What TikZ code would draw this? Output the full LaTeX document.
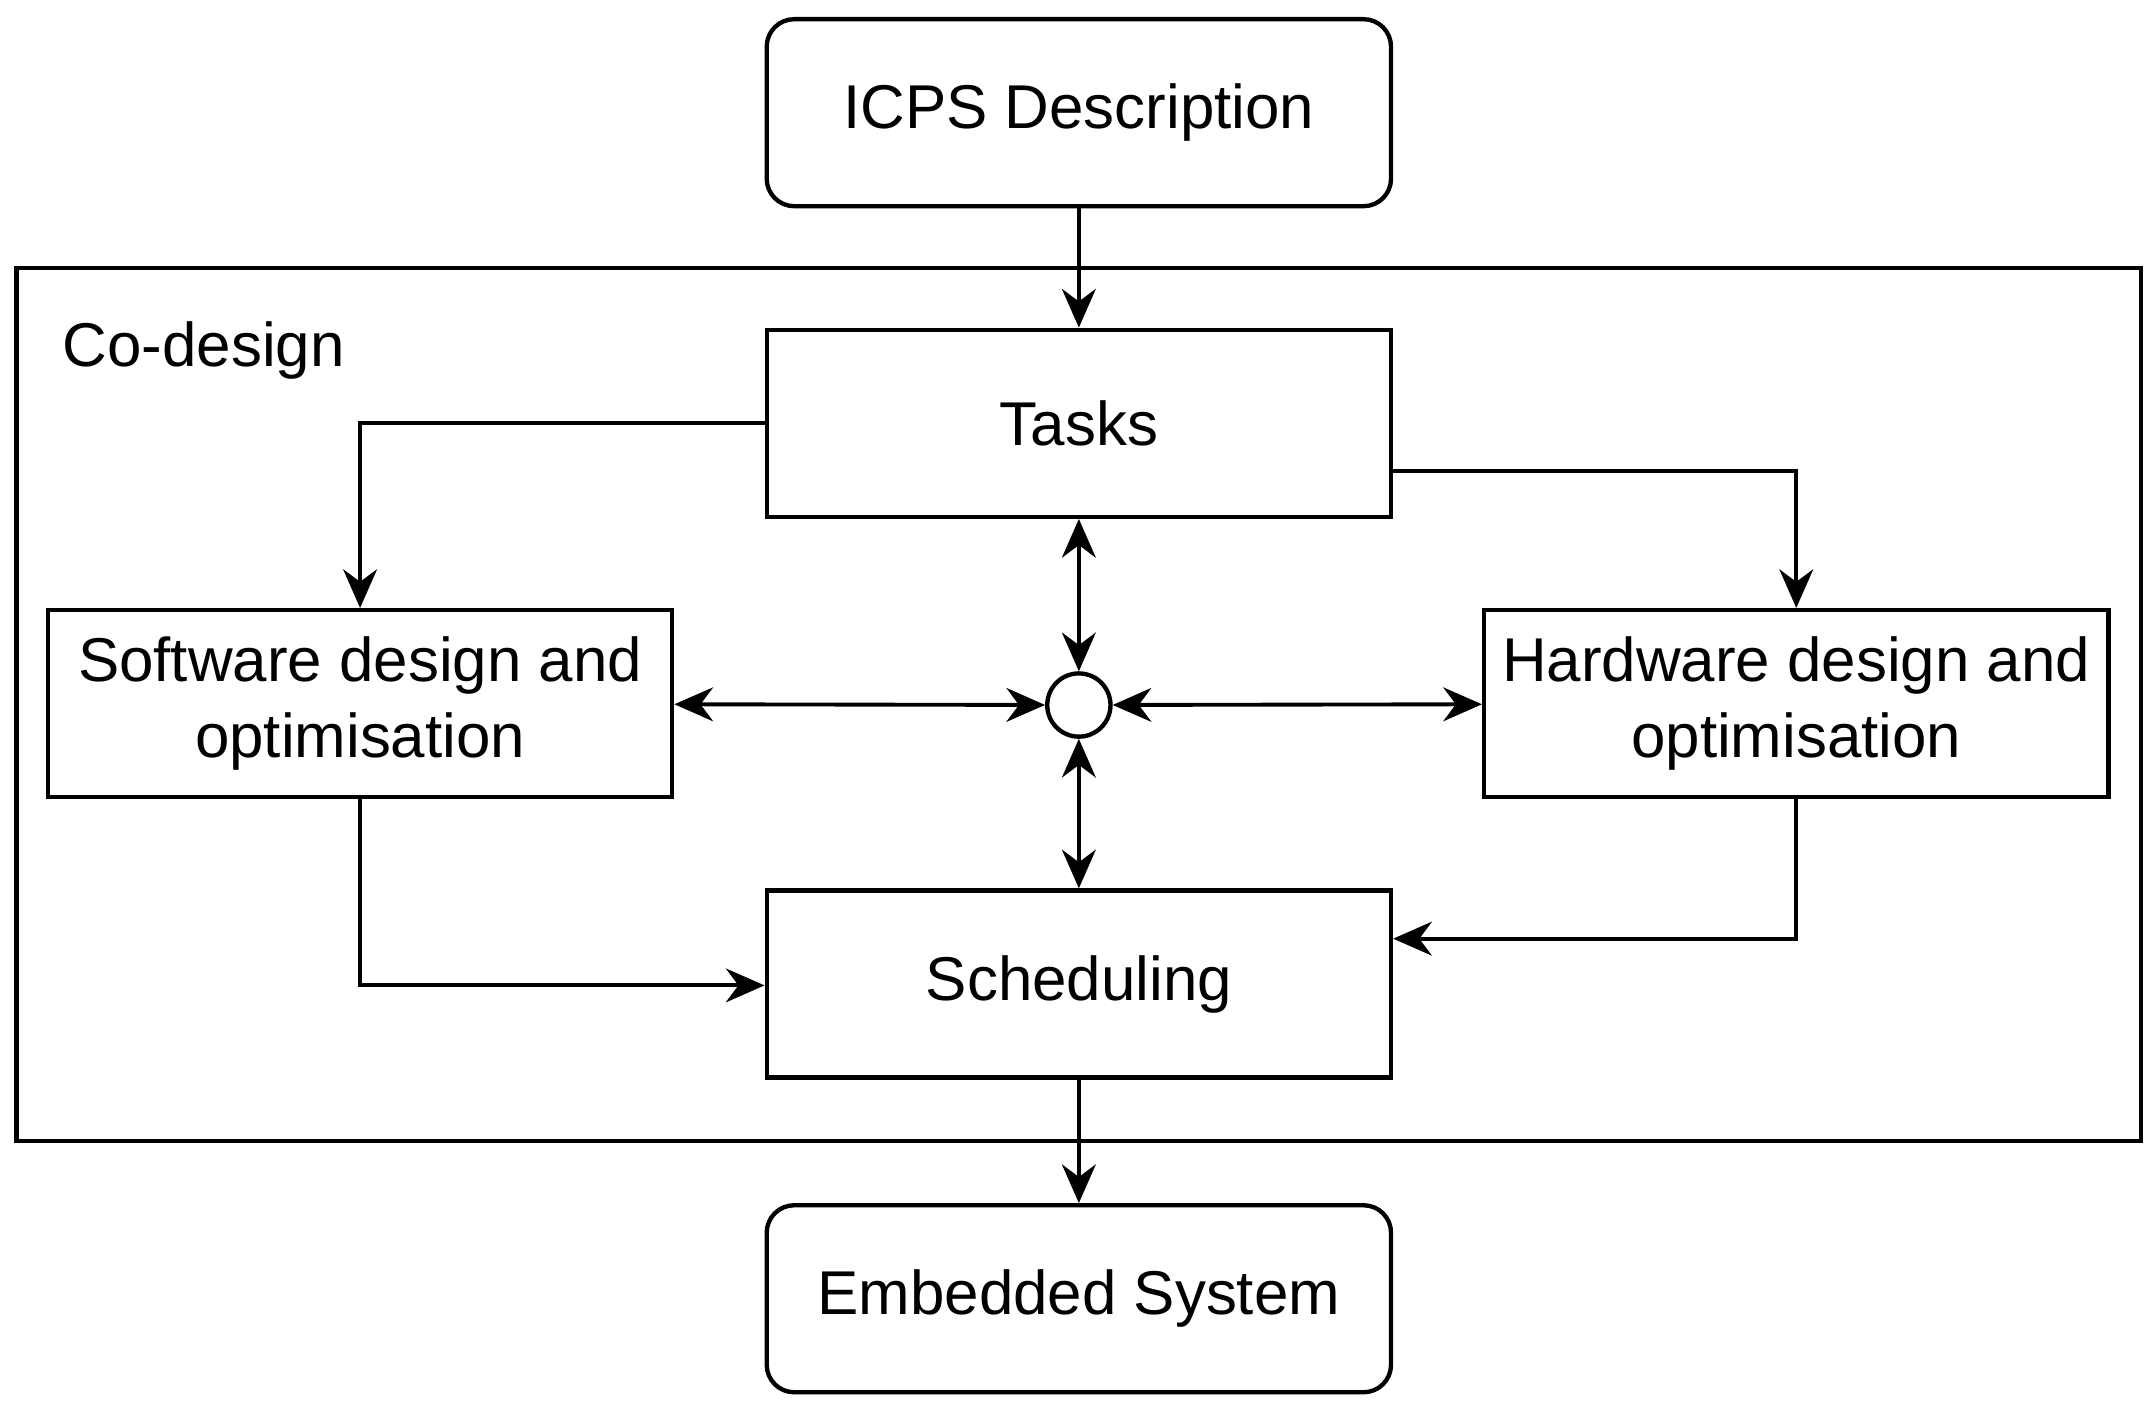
\documentclass[tikz,border=0pt]{standalone}
\usepackage{fontspec}
\setmainfont{Liberation Sans}
\usetikzlibrary{arrows.meta}
\begin{document}
\begin{tikzpicture}[x=0.01cm,y=-0.01cm,
  box/.style={draw,line width=0.9pt,minimum width=4.54cm,minimum height=1.36cm,align=center,inner sep=0pt,font=\fontsize{12.8}{15.6}\selectfont},
  rbox/.style={box,rounded corners=0.2cm},
  arr/.style={line width=0.8pt,-{Stealth[length=8pt,width=7pt]}},
  darr/.style={line width=0.8pt,{Stealth[length=8pt,width=7pt]}-{Stealth[length=8pt,width=7pt]}}]
\useasboundingbox (0,0) rectangle (1568,1022);
\draw[line width=0.9pt] (12,195) rectangle (1558,830);
\node[anchor=west,inner sep=0pt,font=\fontsize{12.8}{15.6}\selectfont] (cd) at (45,255) {Co-design};
\node[rbox] (icps) at (785,82) {ICPS Description};
\node[box] (tasks) at (785,308) {Tasks};
\node[box] (sw) at (262,512) {Software design and\\optimisation};
\node[box] (hw) at (1307,512) {Hardware design and\\optimisation};
\node[draw,circle,line width=0.9pt,minimum size=0.46cm,inner sep=0pt] (c) at (785,513) {};
\node[box] (sch) at (785,716) {Scheduling};
\node[rbox] (emb) at (785,945) {Embedded System};
\draw[arr] (icps) -- (tasks);
\draw[arr] (tasks.west |- 0,308) -| (sw.north);
\draw[arr] (tasks.east |- 0,343) -| (hw.north);
\draw[darr] (tasks) -- (c);
\draw[darr] (sw) -- (c);
\draw[darr] (c) -- (hw);
\draw[darr] (c) -- (sch);
\draw[arr] (sw.south) |- (sch.west |- 0,717);
\draw[arr] (hw.south) |- (sch.east |- 0,683);
\draw[arr] (sch) -- (emb);
\end{tikzpicture}
\end{document}
